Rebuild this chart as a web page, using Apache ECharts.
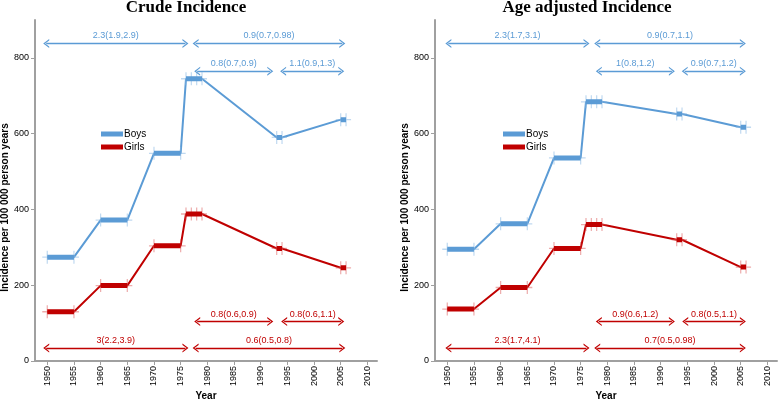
<!DOCTYPE html>
<html>
<head>
<meta charset="utf-8">
<script src="https://cdn.jsdelivr.net/npm/echarts@6/dist/echarts.min.js"></script>
<style>
html,body{margin:0;padding:0;background:#fff;}
#chart{width:778px;height:399px;}
</style>
</head>
<body>
<div id="chart"></div>
<script>
// ---- data ----
const years = [1950,1955,1960,1965,1970,1975,1976,1977,1978,1979,1993,1994,2005,2006];
const periodIndex = [0,0,1,1,2,2,3,3,3,3,4,4,5,5];
const crudeBoys  = [274,274,372,372,548,548,745,745,745,745,590,590,637,637];
const crudeGirls = [130,130,199,199,304,304,388,388,388,388,297,297,246,246];
const adjBoys    = [295,295,362,362,536,536,684,684,684,684,652,652,617,617];
const adjGirls   = [137,137,194,194,297,297,360,360,360,360,320,320,248,248];
const xTickLabels = [1950,1955,1960,1965,1970,1975,1980,1985,1990,1995,2000,2005,2010];
const titles = ['Crude Incidence','Age adjusted Incidence'];

// trend annotations (rate ratios), span in years, level in incidence units
const crudeBlueText  = ['2.3(1.9,2.9)','0.9(0.7,0.98)','0.8(0.7,0.9)','1.1(0.9,1.3)'];
const crudeBlueStart = [1949.8,1977.8,1978.1,1994.2];
const crudeBlueEnd   = [1975.9,2005.3,1991.8,2005.1];
const crudeBlueLevel = [838,838,765,765];
const crudeRedText   = ['0.8(0.6,0.9)','0.8(0.6,1.1)','3(2.2,3.9)','0.6(0.5,0.8)'];
const crudeRedStart  = [1978.1,1994.4,1949.8,1977.8];
const crudeRedEnd    = [1991.8,2005.1,1975.9,2005.3];
const crudeRedLevel  = [104,104,34,34];
const adjBlueText    = ['2.3(1.7,3.1)','0.9(0.7,1.1)','1(0.8,1.2)','0.9(0.7,1.2)'];
const adjBlueStart   = [1950.2,1978.1,1978.4,1994.5];
const adjBlueEnd     = [1976.1,2005.4,1992.1,2005.4];
const adjBlueLevel   = [838,838,765,765];
const adjRedText     = ['0.9(0.6,1.2)','0.8(0.5,1.1)','2.3(1.7,4.1)','0.7(0.5,0.98)'];
const adjRedStart    = [1978.4,1994.6,1950.2,1978.1];
const adjRedEnd      = [1992.1,2005.4,1976.1,2005.4];
const adjRedLevel    = [104,104,34,34];

// ---- styles ----
const BLUE = '#5B9BD5', BLUE_L = 'rgba(140,185,228,0.55)';
const RED = '#C00000', RED_L = 'rgba(220,90,90,0.5)';
const AXIS = '#A0A0A0';
const PLUS = 'path://M4.4,0H5.6V4.5H10V5.5H5.6V10H4.4V5.5H0V4.5H4.4Z';
const CHEV = 'path://M0,10L5,0L10,10L8.4,10L5,3.2L1.6,10Z';
const FONT = 'Liberation Sans, Arial, sans-serif';

function pts(vals){ return years.map((y,i)=>[y, vals[i]]); }
function thick(vals){
  const out = [];
  for (let i=0;i<years.length;i++){
    out.push([years[i], vals[i]]);
    if (i<years.length-1 && periodIndex[i+1]!==periodIndex[i]) out.push([years[i], '-']);
  }
  return out;
}
function arrows(text, st, en, lv, color){
  return {
    silent:true, animation:false,
    symbol:[CHEV, CHEV], symbolSize:[9,6],
    lineStyle:{color:color, width:1.3, type:'solid'},
    label:{show:true, position:'insideMiddleTop', formatter:'{b}', color:color, fontSize:9, fontFamily:FONT, distance:3},
    emphasis:{disabled:true},
    data: text.map((t,i)=>[{coord:[st[i], lv[i]], name:t},{coord:[en[i], lv[i]]}])
  };
}

const gridLefts = [35, 435];
const grids = gridLefts.map(l=>({left:l, width:342, top:20, height:341, containLabel:false, outerBoundsMode:'none'}));

const xAxes = [0,1].map(i=>({
  type:'value', gridIndex:i, min:1947.7, max:2011.8,
  splitLine:{show:false},
  axisLine:{show:true, onZero:false, lineStyle:{color:AXIS, width:2}},
  axisTick:{show:true, customValues:xTickLabels, length:4, lineStyle:{color:AXIS}},
  axisLabel:{customValues:xTickLabels, rotate:90, fontSize:9, color:'#000', margin:5, fontFamily:FONT,
             formatter:(v)=>String(v)},
  name:'Year', nameLocation:'middle', nameGap:30, nameMoveOverlap:false,
  nameTextStyle:{fontWeight:'bold', fontSize:10, color:'#000', fontFamily:FONT}
}));
const yAxes = [0,1].map(i=>({
  type:'value', gridIndex:i, min:0, max:900, interval:200,
  splitLine:{show:false},
  axisLine:{show:true, lineStyle:{color:AXIS, width:2}},
  axisTick:{show:true, length:4, lineStyle:{color:AXIS}},
  axisLabel:{fontSize:9, color:'#000', margin:6, fontFamily:FONT, showMaxLabel:false},
  name:'Incidence per 100 000 person years', nameLocation:'middle', nameGap:25,
  nameTextStyle:{fontWeight:'bold', fontSize:10, color:'#000', fontFamily:FONT, padding:[0,34,0,0]}
}));

const sets = [
  {boys:crudeBoys, girls:crudeGirls,
   ba:arrows(crudeBlueText,crudeBlueStart,crudeBlueEnd,crudeBlueLevel,BLUE),
   ra:arrows(crudeRedText,crudeRedStart,crudeRedEnd,crudeRedLevel,RED)},
  {boys:adjBoys, girls:adjGirls,
   ba:arrows(adjBlueText,adjBlueStart,adjBlueEnd,adjBlueLevel,BLUE),
   ra:arrows(adjRedText,adjRedStart,adjRedEnd,adjRedLevel,RED)}
];

const series = [];
sets.forEach((s,i)=>{
  [['Boys', s.boys, BLUE, BLUE_L, s.ba], ['Girls', s.girls, RED, RED_L, s.ra]].forEach(([name, vals, c, cl, ml])=>{
    series.push({
      type:'line', name:name, xAxisIndex:i, yAxisIndex:i, data:pts(vals),
      symbol:PLUS, symbolSize:[10,13], showSymbol:true,
      lineStyle:{color:c, width:2}, itemStyle:{color:cl}, color:c,
      z:2, animation:false, markLine:ml
    });
    series.push({
      type:'line', name:name+'_bar', xAxisIndex:i, yAxisIndex:i, data:thick(vals),
      symbol:'none', connectNulls:false, lineStyle:{color:c, width:5, cap:'butt'},
      z:3, animation:false, silent:true
    });
  });
});

const legendData = [
  {name:'Boys', itemStyle:{color:BLUE}},
  {name:'Girls', itemStyle:{color:RED}}
];
const legends = [96, 498].map(l=>({
  left:l, top:124, orient:'vertical', itemGap:3, itemWidth:22, itemHeight:5,
  icon:'rect', data:legendData, selectedMode:false,
  textStyle:{fontSize:10, color:'#000', fontFamily:FONT, padding:[0,0,0,-4]}
}));

const chart = echarts.init(document.getElementById('chart'), null, {renderer:'canvas'});
chart.setOption({
  animation:false,
  backgroundColor:'#fff',
  title: [186, 587].map((x,i)=>({
    text:titles[i], left:x, top:-1, textAlign:'center', padding:0,
    textStyle:{fontFamily:'Liberation Serif, Times New Roman, serif', fontWeight:'bold', fontSize:17, color:'#000'}
  })),
  legend: legends,
  grid: grids,
  xAxis: xAxes,
  yAxis: yAxes,
  series: series
});
</script>
</body>
</html>
